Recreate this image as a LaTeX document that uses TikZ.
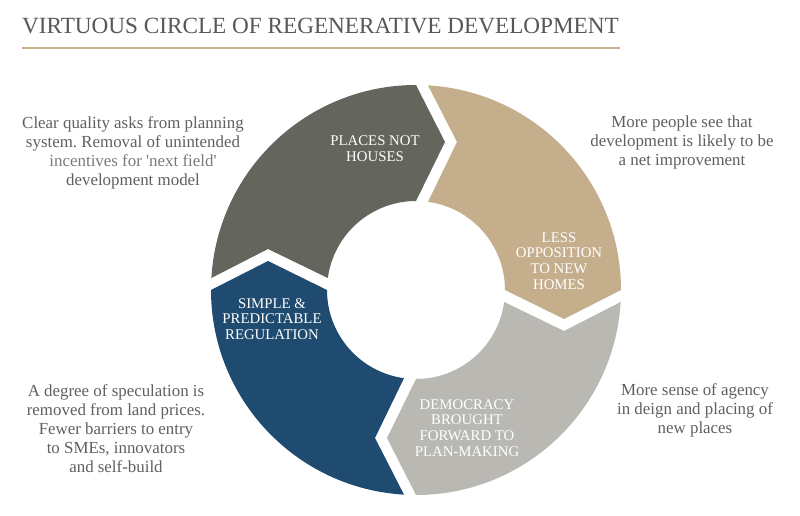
\documentclass[tikz,border=0pt]{standalone}
\usepackage{fontspec}
\setmainfont{Liberation Serif}
\usetikzlibrary{calc}
\frenchspacing
\definecolor{segdark}{HTML}{64655C}
\definecolor{segtan}{HTML}{C4AE8C}
\definecolor{seglight}{HTML}{B9B8B2}
\definecolor{segblue}{HTML}{1E4B6F}
\definecolor{bodytext}{HTML}{606060}
\definecolor{bodylight}{HTML}{7A7A7A}
\definecolor{titletext}{HTML}{55575A}
\definecolor{ruleline}{HTML}{C8B18D}
% #1 colour, #2 angle of the leading (clockwise) edge; trailing axis = #2+90
\newcommand\ringseg[2]{%
  \pgfmathsetmacro\aone{#2+90}%
  \fill[#1] (\aone-3.355:205pt) arc[start angle=\aone-3.355, end angle=#2, radius=205pt]
    -- ($(#2:148pt)+(#2-90:29pt)$)
    -- (#2:89pt) arc[start angle=#2, end angle=\aone-7.75, radius=89pt]
    -- ($(\aone:148pt)+(\aone-90:41pt)$) -- cycle;}
% lines of text whose baseline is that of the first line
\newcommand\textlines[1]{\begin{tabular}[t]{@{}c@{}}#1\end{tabular}}
\begin{document}
\frenchspacing
\begin{tikzpicture}[x=1pt,y=1pt,
  bodytxt/.style={font=\fontsize{16.9}{19}\selectfont, text=bodytext, anchor=base, inner sep=0pt},
  segtxt/.style={font=\fontsize{14.8}{15.7}\selectfont, text=white, anchor=base, inner sep=0pt}]
\useasboundingbox (0,0) rectangle (800,515);
\fill[white] (0,0) rectangle (800,515);
\node[anchor=base west, inner sep=0pt, text=titletext, font=\fontsize{23.2}{27}\selectfont] (title) at (22,481) {VIRTUOUS CIRCLE OF REGENERATIVE DEVELOPMENT};
\coordinate (ruleL) at (22,467);
\coordinate (ruleR) at (620,467);
\draw[ruleline, line width=1.5pt] (ruleL) -- (ruleR);
\begin{scope}[shift={(416,225)}]
  \ringseg{segdark}{90}
  \ringseg{segtan}{0}
  \ringseg{seglight}{-90}
  \ringseg{segblue}{-180}
\end{scope}
\node[segtxt] (places) at (375,369) {\textlines{PLACES NOT\\HOUSES}};
\node[segtxt] (less) at (559,273) {\textlines{LESS\\OPPOSITION\\TO NEW\\HOMES}};
\node[segtxt] (simple) at (272,207) {\textlines{SIMPLE \&\\PREDICTABLE\\REGULATION}};
\node[segtxt] (democracy) at (467,106) {\textlines{DEMOCRACY\\BROUGHT\\FORWARD TO\\PLAN-MAKING}};
\node[bodytxt] (tl) at (133,386) {\textlines{Clear quality asks from planning\\system. Removal of unintended\\\textcolor{bodylight}{incentives for \textquotesingle next field\textquotesingle}\\development model}};
\node[bodytxt] (tr) at (682,387) {\textlines{More people see that\\development is likely to be\\a net improvement}};
\node[bodytxt] (bl) at (116,119) {\textlines{A degree of speculation is\\removed from land prices.\\Fewer barriers to entry\\to SMEs, innovators\\and self-build}};
\node[bodytxt] (br) at (695,120) {\textlines{More sense of agency\\in deign and placing of\\new places}};
\end{tikzpicture}
\end{document}
